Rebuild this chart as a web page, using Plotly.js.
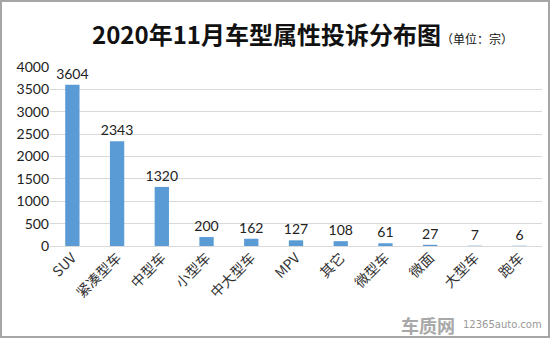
<!DOCTYPE html>
<html>
<head>
<meta charset="utf-8">
<script src="https://cdn.plot.ly/plotly-3.0.1.min.js"></script>
<style>
html,body{margin:0;padding:0;background:#fff;}
#wrap{position:relative;width:550px;height:338px;overflow:hidden;}
#chart{width:550px;height:338px;}
#frame{position:absolute;left:0;top:0;width:550px;height:338px;box-sizing:border-box;border:2px solid #a6a6a6;pointer-events:none;}
</style>
</head>
<body>
<div id="wrap"><div id="chart"></div><div id="frame"></div></div>
<script>
const categories = ["SUV","紧凑型车","中型车","小型车","中大型车","MPV","其它","微型车","微面","大型车","跑车"];
const complaints = [3604,2343,1320,200,162,127,108,61,27,7,6];
const yTicks = [0,500,1000,1500,2000,2500,3000,3500,4000];

const font = "Lato, 'Noto Sans CJK SC', sans-serif";

const trace = {
  type: "bar",
  x: categories,
  y: complaints,
  marker: {color: "#5b9bd5"},
  text: complaints.map(String),
  textposition: "outside",
  constraintext: "none",
  cliponaxis: false,
  textfont: {family: font, size: 14, color: "#222"},
  hoverinfo: "none"
};

const layout = {
  width: 550,
  height: 338,
  margin: {l: 50, r: 8, t: 67, b: 92},
  paper_bgcolor: "#fff",
  plot_bgcolor: "#fff",
  bargap: 0.68,
  showlegend: false,
  title: {
    text: "<b>2020年11月车型属性投诉分布图</b><span style='font-size:12px'>（单位：宗）</span>",
    font: {family: "'Noto Sans CJK SC', sans-serif", size: 24, color: "#111"},
    x: 0.55, xanchor: "center", xref: "container",
    y: 0.895, yanchor: "middle", yref: "container"
  },
  xaxis: {
    type: "category",
    tickangle: -45,
    tickfont: {family: "'Noto Sans CJK SC', Lato, sans-serif", size: 14, color: "#333"},
    showline: false,
    ticks: "",
    showgrid: false,
    zeroline: false
  },
  yaxis: {
    range: [0, 4000],
    tickvals: yTicks,
    ticktext: yTicks.map(String),
    tickfont: {family: font, size: 14, color: "#222"},
    showgrid: true,
    gridcolor: "#d9d9d9",
    gridwidth: 1,
    zeroline: true,
    zerolinecolor: "#d9d9d9",
    showline: false,
    ticks: "",
    ticklen: 0
  },
  annotations: [
    {
      text: "<b>车质网</b>",
      xref: "paper", yref: "paper",
      x: 0.828, y: -0.44, xanchor: "right", yanchor: "middle",
      showarrow: false,
      font: {family: "'Noto Sans CJK SC', sans-serif", size: 18, color: "#a8a8a8"}
    },
    {
      text: "12365auto.com",
      xref: "paper", yref: "paper",
      x: 1.004, y: -0.44, xanchor: "right", yanchor: "middle",
      showarrow: false,
      font: {family: "'DejaVu Sans', sans-serif", size: 10, color: "#999"}
    }
  ]
};

Plotly.newPlot("chart", [trace], layout, {displayModeBar: false, staticPlot: true});
</script>
</body>
</html>
